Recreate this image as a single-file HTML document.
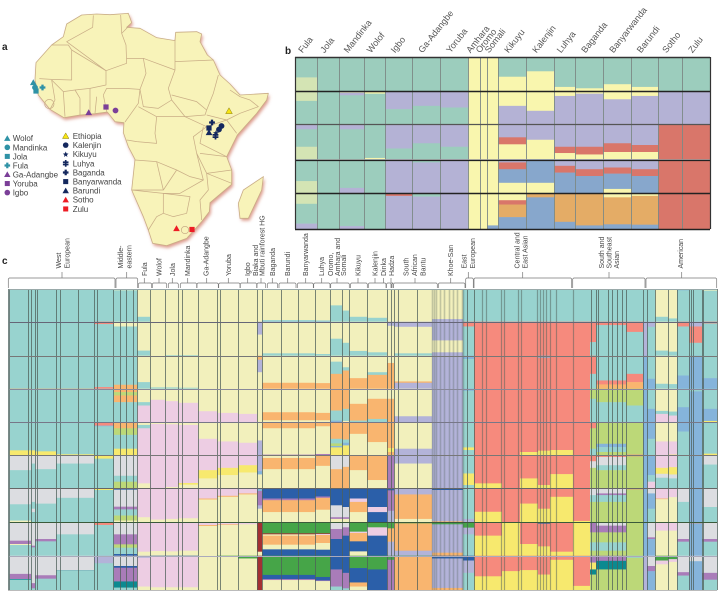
<!DOCTYPE html>
<html lang="en">
<head>
<meta charset="utf-8">
<title>African population structure figure</title>
<style>
html,body{margin:0;padding:0;background:#fff;}
svg{display:block;}
text{font-family:"Liberation Sans",sans-serif;}
</style>
</head>
<body>
<svg id="fig" xmlns="http://www.w3.org/2000/svg" width="720" height="591" viewBox="0 0 720 591">
  <defs>
    <filter id="soft" x="-5%" y="-5%" width="110%" height="110%"><feGaussianBlur stdDeviation="5"/></filter>
  </defs>
  <rect width="720" height="591" fill="#fff"/>

  <text x="2" y="50" font-size="10" font-weight="bold" fill="#222">a</text>
  <text x="285" y="54" font-size="10" font-weight="bold" fill="#222">b</text>
  <text x="2" y="264" font-size="10" font-weight="bold" fill="#222">c</text>

  <g transform="scale(0.33333)">
    <g fill="#dc9a8a" filter="url(#soft)" transform="translate(4,7)">
      <path d="M245 45L290 42L330 44L385 40L395 68L380 82L420 85L470 113L525 122L527 97L590 95L605 102L600 125L622 165L640 180L660 225L690 252L720 285L805 280L800 300L770 340L712 405L680 470L695 510L695 553L630 608L628 635L605 665L560 715L500 737L458 730L445 690L430 650L395 570L405 478L385 440L370 398L372 368L345 365L322 336L285 341L240 345L192 353L150 328L115 285L105 240L108 188L155 135L190 110L200 72Z"/>
      <path d="M790 530L785 570L745 655L720 655L715 610L730 570Z"/>
    </g>
    <path fill="#f8f3b9" stroke="#c9ad86" stroke-width="2.4" stroke-linejoin="round" d="M245 45L290 42L330 44L385 40L395 68L380 82L420 85L470 113L525 122L527 97L590 95L605 102L600 125L622 165L640 180L660 225L690 252L720 285L805 280L800 300L770 340L712 405L680 470L695 510L695 553L630 608L628 635L605 665L560 715L500 737L458 730L445 690L430 650L395 570L405 478L385 440L370 398L372 368L345 365L322 336L285 341L240 345L192 353L150 328L115 285L105 240L108 188L155 135L190 110L200 72Z"/>
    <path fill="#f8f3b9" stroke="#c9ad86" stroke-width="2.4" d="M790 530L785 570L745 655L720 655L715 610L730 570Z"/>
    <g fill="none" stroke="#c9ad86" stroke-width="2.2" stroke-linejoin="round">
      <path d="M280 46L278 82L200 125L318 212L380 190L378 135L365 100L362 45"/>
      <path d="M365 100L385 80M380 175L430 175L525 210L525 118M525 185L640 180"/>
      <path d="M155 135L205 135L215 150L215 240L155 238L118 236M215 150L318 212L318 255L270 265L225 270L190 275L155 240"/>
      <path d="M430 175L438 220L420 268L370 265L320 265M525 210L505 265L515 300L475 325L430 320L420 268"/>
      <path d="M655 225L640 280L620 330L590 305L515 285M515 300L555 350L615 345L620 330"/>
      <path d="M690 270L720 290L750 300L775 320L720 340L680 360L620 345M420 268L415 310L375 366M310 285L320 335M320 265L310 285"/>
      <path d="M415 320L470 350L555 350L620 380L580 410L590 460L610 540L570 530L530 510L470 485L405 480M470 350L465 400L470 430L410 425L380 420"/>
      <path d="M395 570L490 570L470 485M490 570L530 510M395 570L490 580L490 640L470 650L445 690M490 580L570 590L560 640L520 650L490 640"/>
      <path d="M695 550L620 520L625 570L600 600L605 660M490 580L540 580L575 560L610 540M600 460L680 470M695 510L620 520L590 460M620 380L680 360L710 400M680 470L600 430L610 380"/>
      <path d="M155 240L165 300M190 275L195 350M240 295L240 345M270 265L270 340M290 290L285 340M225 270L240 295M165 300L150 328"/>
      <circle cx="555" cy="690" r="11"/>
      <circle cx="148" cy="312" r="14"/>
    </g>
  </g>
  <g id="map-markers"></g>
  <g id="legend"></g>

  <g id="panel-b"></g>
  <g id="panel-c-labels"></g>
  <g id="panel-c"></g>
</svg>

<script>
// ---------- legend data ----------
const legendNames = ['Wolof','Mandinka','Jola','Fula','Ga-Adangbe','Yoruba','Igbo','Ethiopia','Kalenjin','Kikuyu','Luhya','Baganda','Banyarwanda','Barundi','Sotho','Zulu'];
const legendShapes = ['tri','circ','sq','plus','tri','sq','circ','tri','circ','star','dbl','plus','sq','tri','tri','sq'];
const legendColors = ['#2f92a6','#2f92a6','#2f92a6','#2f92a6','#7b3f98','#7b3f98','#7b3f98','#f7e513','#14285e','#14285e','#14285e','#14285e','#14285e','#14285e','#ed1c24','#ed1c24'];

// ---------- panel b data ----------
const bPopulations = ['Fula','Jola','Mandinka','Wolof','Igbo','Ga-Adangbe','Yoruba','Amhara','Oromo','Somali','Kikuyu','Kalenjin','Luhya','Baganda','Banyarwanda','Barundi','Sotho','Zulu'];
const bSizes = [22,22,25,21,27,28,28,12,7,11,28,28,21,28,28,27,24,28];
const bRow1 = ['t60 u40','t100','t100','t100','t100','t100','t100','y100','y100','y100','t58 y42','t42 y58','t88 y12','t92 y8','t80 y20','t88 y12','t100','t100'];
const bRow2 = ['u30 t70','t100','y5 l8 t87','y8 t92','l55 t45','l45 t55','l50 t50','y100','y100','y100','y45 l55','y60 l40','y15 l85','y8 l92','y25 l75','y15 l85','l100','l100'];
const bRow3 = ['l15 t50 u35','t100','l15 t85','t97 y3','l70 t30','l55 t45','l65 t35','y100','y100','y100','l38 r20 y42','l45 y55','l65 r18 y17','l65 r22 y13','l55 r25 y20','l60 r20 y20','r100','r100'];
const bRow4 = ['t65 u35','t100','t85 l15','t100','l100','t10 l90','l100','y100','y100','y100','l10 r20 s40 y30','s70 y30','l20 r20 s60','l30 r20 s50','l25 r18 s45 y12','l30 r20 s50','r100','r100'];
const bRow5 = ['u30 t55 l15','t100','t92 l8','t100','r8 l92','t10 l90','l100','y100','y100','y90 s10','y20 r12 o35 s33','o12 s88','o80 s20','o90 s10','y12 o75 s13','y8 o80 s12','r100','r100'];

// ---------- panel c data ----------
const cSegmentNames = ['west-european-1','west-european-2','west-european-3','west-european-4','west-european-5','middle-eastern','fula','wolof','jola','mandinka','ga-adangbe','yoruba','igbo','biaka-mbuti','baganda-barundi-banyarwanda','luhya','oromo-amhara','somali','kikuyu','kalenjin','dinka-hadza','south-african-bantu','khoe-san','east-european','east-asian-1','east-asian-2','east-asian-3','east-asian-4','east-asian-5','east-asian-6','south-asian-1','south-asian-2','southeast-asian','american-1','american-2','american-3','american-4','american-5','american-6','american-7'];
const cSegmentSizes = [23,4,21,38,20,23,13,15,13,20,19,21,19,5,53,15,12,7,18,20,7,38,31,11,28,18,18,12,23,17,6,30,17,4,8,13,9,12,13,15];
const cWestEuro1 = ['t100','t100','t100','o2 t98','o2 t83 Y15','g45 t55','g47 t48 y5','g55 p10 y3 t32','g53 p15 e2 t30'];
const cWestEuro2 = ['t100','t100','t100','t100','t85 Y15','g25 t75','g40 t20 g10 t30','g70 p5 t25','g80 p15 t5'];
const cWestEuro3 = ['t100','t100','t100','o1 t99','t88 Y12','g42 t58','g45 t55','g50 p7 t43','g57 p10 t33'];
const cWestEuro4 = ['t100','t100','t100','o1 t99','t97 Y3','g25 t75','g28 t72','g36 t64','g43 e1 t56'];
const cWestEuro5 = ['t100','r7 t93','t95 r5','t100','r10 s2 t88','Y10 t90','Y5 t95','r8 t92','l22 t78'];
const cMiddleEast = ['y4 t96','y14 t86','t88 o12','o10 L10 o20 t60','o18 L20 t42 Y20','g62 t18 L20','b4 g50 p8 t18 L15 y5','g36 p30 L10 t19 b5','g30 b5 p40 e18 t7'];
const cFula = ['y85 t15','y85 t15','y80 t20','y40 t10 k50','y8 t10 k82','k85 y15','b2 k83 y15','k88 y12','l6 k84 y10'];
const cWolof = ['y100','y100','y96 t4','y33 k67','y5 k95','k100','b2 k90 y8','r1 k85 y14','b2 k90 y8'];
const cJola = ['y100','y98 t2','y96 t4','y37 k63','y6 k94','k96 y4','b2 k88 y10','r1 k86 y13','b3 k89 y8'];
const cMandinka = ['y100','y98 t2','y97 t3','y42 k58','y8 k92','k84 Y5 y11','b1 k87 y12','k85 y15','b2 k90 y8'];
const cGaAdangbe = ['y100','y100','y100','y67 k33','y50 k50','k45 Y25 y30','k30 o3 y67','k8 o3 y89','y100'];
const cYoruba = ['y100','y100','y100','y72 k28','y58 k42','k38 Y22 y40','k22 o3 y75','k6 o2 y92','G3 y97'];
const cIgbo = ['y100','y100','y100','y75 k25','y62 k38','k30 Y22 y48','k15 o3 y82','k6 y94','G8 y92'];
const cBiakaMbuti = ['y100','l38 y62','o12 l38 y50','y100','y55 l45','l48 s10 y42','s8 p42 l10 y40','d88 y12','d100'];
const cBantuEast = ['y95 t5','l2 y91 t7','y82 o18','y70 o24 y6','o18 y80 p2','y8 o34 y58','b30 p5 o35 y30','G33 d3 y4 o27 y14 b19','G56 b12 p3 y29'];
const cLuhya = ['y96 t4','l2 y93 t5','y83 o17','y72 o22 y6','o12 y84 p4','o32 y68','b24 p4 o35 y37','G33 d2 k3 o24 y20 b18','G62 b10 p2 y26'];
const cOromo = ['y50 t50','y50 t50','y18 t37 o45','o65 t30 s5','o50 t14 L8 s4 Y24','g42 o58','b50 g35 p5 y10','g20 p30 b50','b40 p50 t10'];
const cSomali = ['y66 t34','y62 t38','y35 t10 o55','o60 t36 y4','o52 t10 s8 Y30','g35 o65','b55 g30 p5 y10','g15 p25 b60','b50 p45 t5'];
const cKikuyu = ['y85 t15','y86 t14','y68 o32','y45 o50 t5','o35 y65','o45 y55','b30 k10 o30 y30','G28 k4 o25 b30 y13','G36 b42 o12 y10'];
const cKalenjin = ['y88 t12','y90 t10','y50 t8 o42','y30 o60 t10','o60 y40','o75 y25','b55 k15 b30','G15 k25 b60','G40 b60'];
const cDinkaHadza = ['y100','l12 y88','y22 o78','y30 o70','o78 Y12 o10','p100','b6 p60 l34','G18 o40 l42','G12 p88'];
const cSouthBantu = ['y100','l15 y78 t7','y78 o4 l18','y82 l18','y80 l20','l25 y75','l18 o72 y10','G3 o82 l15','G3 o97'];
const cKhoeSan = ['y92 l8','l55 y35 l10','l100','l100','l100','l100','b5 l92 o3','G6 l85 o9','b8 l86 o6'];
const cEastEuro = ['t100','r14 t86','s10 t90','s6 t94','t76 Y8 t16','t55 Y35 t10','t90 l10','G16 l20 t64','b14 l36 t50'];
const cAsia1 = ['t100','r100','r100','r100','r99 Y1','r85 Y15','r69 Y31','r40 Y60','r60 Y40'];
const cAsia2 = ['t100','r100','r100','r100','r100','r100','r100','b2 Y98','r45 Y55'];
const cAsia3 = ['t100','r100','r100','r100','r90 Y10','r70 Y30','r45 Y55','r65 Y35','r42 Y58'];
const cAsia4 = ['t100','r100','s6 r94','r100','r86 Y14','r90 Y10','r60 Y40','b4 r68 Y28','r55 Y45'];
const cAsia5 = ['t100','r100','r100','r100','r84 Y16','r57 Y43','r25 Y75','r88 Y12','r12 Y88'];
const cAsia6 = ['t100','r100','r100','r100','r100','r100','r96 Y4','Y100','r88 Y12'];
const cSouth1 = ['t100','r60 t40','r55 t45','L30 t70','r18 L62 t20','r18 g20 L62','g20 t20 L60','p30 L30 t25 L15','p20 Y20 e15 L45'];
const cSouth2 = ['t100','r10 t90','t75 r12 o13','L40 t60','L65 s10 t15 L10','r5 g25 t15 L55','g15 p5 t20 L60','g10 p20 L30 t25 L15','p15 e25 L60'];
const cSouth3 = ['t100','r30 t70','t55 r25 o20','L50 t50','L98 r2','r3 L97','r3 L97','L100','t6 L94'];
const cAmerican1 = ['t100','l100','s100','s100','s100','s100','s100','s100','l100'];
const cAmerican2 = ['t100','l15 t85','t70 s30','t60 s40','s50 t50','s60 t20 k20','g15 s45 t40','g45 p5 s50','g30 p15 s55'];
const cAmerican3 = ['y85 t15','y85 t15','y85 t15','y66 t9 k25','y58 k42','k38 Y18 g12 t32','k30 o2 y68','k25 y75','G14 k11 y75'];
const cAmerican4 = ['y90 t10','y88 t12','y86 t14','y68 t12 k20','y58 k40 Y2','k36 Y22 g12 t30','k26 y74','k25 y75','G10 k8 y82'];
const cAmerican5 = ['s4 t96','r14 t86','t60 s40','t55 s45','s28 t72','t100','g40 t60','g50 p8 t42','g48 p10 t42'];
const cAmerican6 = ['t100','l14 r48 t38','s100','t8 s92','s100','s100','s100','r3 s97','g16 s84'];
const cAmerican7 = ['y5 t95','r5 t95','t68 s32','t60 s36 Y4','t95 Y5','g28 t72','g55 t45','g50 p8 t42','g50 p20 t30'];
const cStacksBySegment = [cWestEuro1,cWestEuro2,cWestEuro3,cWestEuro4,cWestEuro5,cMiddleEast,cFula,cWolof,cJola,cMandinka,cGaAdangbe,cYoruba,cIgbo,cBiakaMbuti,cBantuEast,cLuhya,cOromo,cSomali,cKikuyu,cKalenjin,cDinkaHadza,cSouthBantu,cKhoeSan,cEastEuro,cAsia1,cAsia2,cAsia3,cAsia4,cAsia5,cAsia6,cSouth1,cSouth2,cSouth3,cAmerican1,cAmerican2,cAmerican3,cAmerican4,cAmerican5,cAmerican6,cAmerican7];
const cSeparatorSamples = [1,20,23,27,29,48,52,70,86,89,105,112,118,125,129,142,157,170,174,190,209,212,230,249,254,273,290,307,322,334,341,359,379,383,386,390,409,424,426,428,432,436,441,445,449,454,455,459,466,474,478,493,496,510,513,529,532,535,538,542,548,565,583,588,590,600,604,609,614,618,635,639,647,660,669,681,683,685,694,695,709];

const SVGNS = 'http://www.w3.org/2000/svg';
const bPalette = {t:'#9ccdbd',y:'#f9f6ae',u:'#d4e4b4',l:'#b4b2d5',r:'#d9766a',s:'#87a7cc',o:'#e4ac66'};
const cPalette = {y:'#f2f0bc',t:'#98d3cf',k:'#edcde3',r:'#f68a7d',o:'#f9b56f',g:'#dcdde1',Y:'#f7e96e',l:'#b3b3d9',b:'#2b5fa9',G:'#46a548',L:'#bcd878',p:'#a97cb9',s:'#85b4db',d:'#a33033',e:'#0c8a90'};

function make(tag, parent, attrs) {
  const el = document.createElementNS(SVGNS, tag);
  for (const k in attrs) el.setAttribute(k, attrs[k]);
  parent.appendChild(el);
  return el;
}
function parseStack(str) {
  return str.split(' ').map(p => ({key: p[0], value: parseFloat(p.slice(1))}));
}
function sum(a) { return a.reduce((s, v) => s + v, 0); }

// ---------- markers ----------
function drawMarker(parent, shape, x, y, r, color) {
  let el;
  const stroke = color === '#f7e513' ? '#8a7d10' : 'none';
  if (shape === 'circ') {
    el = make('circle', parent, {cx: x, cy: y, r: r, fill: color});
  } else if (shape === 'sq') {
    el = make('rect', parent, {x: x - r * 0.9, y: y - r * 0.9, width: r * 1.8, height: r * 1.8, fill: color});
  } else if (shape === 'tri') {
    el = make('path', parent, {d: `M${x} ${y - r * 1.1}L${x + r * 1.15} ${y + r * 0.9}L${x - r * 1.15} ${y + r * 0.9}Z`, fill: color, stroke: stroke, 'stroke-width': 0.5});
  } else if (shape === 'plus') {
    el = make('path', parent, {d: `M${x} ${y - r}V${y + r}M${x - r} ${y}H${x + r}`, stroke: color, 'stroke-width': r * 0.8, fill: 'none'});
  } else if (shape === 'dbl') {
    el = make('path', parent, {d: `M${x} ${y - r * 1.2}V${y + r * 1.2}M${x - r} ${y - r * 0.4}H${x + r}M${x - r} ${y + r * 0.4}H${x + r}`, stroke: color, 'stroke-width': r * 0.6, fill: 'none'});
  } else {
    el = make('path', parent, {d: `M${x} ${y - r}L${x + r * 0.3} ${y - r * 0.3}L${x + r} ${y - r * 0.2}L${x + r * 0.45} ${y + r * 0.25}L${x + r * 0.6} ${y + r}L${x} ${y + r * 0.55}L${x - r * 0.6} ${y + r}L${x - r * 0.45} ${y + r * 0.25}L${x - r} ${y - r * 0.2}L${x - r * 0.3} ${y - r * 0.3}Z`, fill: color});
  }
  return el;
}

// map markers: [population index, x, y] in map pixels
const mapSites = [[0,33.3,82.5],[1,35,87.5],[2,36,91],[3,42.5,87.5],[4,88.7,112.5],[5,106,107],[6,115.5,110.5],[7,229,111],[8,221.5,126],[8,219,129.5],[9,216,133],[10,215.5,136],[11,212,122.5],[12,209,128],[13,209,132.5],[14,176.5,228.5],[15,192,229.5]];
const markersG = document.getElementById('map-markers');
mapSites.forEach(site => {
  const m = drawMarker(markersG, legendShapes[site[0]], site[1], site[2], 2.9, legendColors[site[0]]);
  
  
});

// legend
const legendG = document.getElementById('legend');
legendNames.forEach((name, i) => {
  const col2 = i >= 7;
  const iconX = col2 ? 65.7 : 7.3;
  const textX = col2 ? 72.7 : 12.7;
  const y = col2 ? 136 + (i - 7) * 9.12 : 138.3 + i * 9.05;
  const m = drawMarker(legendG, legendShapes[i], iconX, y, 2.8, legendColors[i]);
  
  
  const t = make('text', legendG, {x: textX, y: y + 2.9, 'font-size': 8, fill: '#444'});
  t.textContent = name;
  
  
});

// ---------- panel b ----------
const bG = document.getElementById('panel-b');
const bLeft = 295, bWidth = 415;
const bRowTops = [57, 91, 124, 159, 193, 229];
const bTotal = sum(bSizes);
function bX(sample) { return bLeft + sample / bTotal * bWidth; }
const bRows = [bRow1, bRow2, bRow3, bRow4, bRow5];
function bY(rowIndex, fraction) { return bRowTops[rowIndex] + fraction * (bRowTops[rowIndex + 1] - bRowTops[rowIndex]); }

bRows.forEach((row, r) => {
  let cum = 0;
  row.forEach((stackStr, c) => {
    const x0 = bX(cum), x1 = bX(cum + bSizes[c]);
    const parts = parseStack(stackStr);
    const total = sum(parts.map(p => p.value));
    let acc = 0;
    parts.forEach(p => {
      const y0 = bY(r, acc / total), y1 = bY(r, (acc + p.value) / total);
      const rect = make('rect', bG, {x: x0, y: y0, width: x1 - x0 + 0.3, height: y1 - y0 + 0.3, fill: bPalette[p.key]});
      
      
      acc += p.value;
    });
    cum += bSizes[c];
  });
});
let bCum = 0;
bPopulations.forEach((name, i) => {
  const x0 = bX(bCum), x1 = bX(bCum + bSizes[i]);
  if (i > 0) {
    const sx = Math.round(x0) + 0.5;
    const sep = make('line', bG, {x1: sx, x2: sx, y1: 57, y2: 229, stroke: '#7d8a86', 'stroke-width': 0.9});
    
    
  }
  const cx = (x0 + x1) / 2 - 3.5;
  const t = make('text', bG, {transform: `translate(${cx},53.5) rotate(-52)`, 'font-size': 9, fill: '#555'});
  t.textContent = name;
  
  
  bCum += bSizes[i];
});
[[57,'#333',1.4],[91,'#222',1.4],[124,'#555',1.2],[159,'#aaa',0.8],[160,'#222',1.2],[193,'#222',1.4],[229,'#222',1.4]].forEach(l => {
  const hl = make('line', bG, {x1: 295, x2: 710, y1: l[0] + 0.5, y2: l[0] + 0.5, stroke: l[1], 'stroke-width': l[2]});
  
  
});
[295, 710].forEach(x => {
  const vl = make('line', bG, {x1: x + 0.5, x2: x + 0.5, y1: 57, y2: 229, stroke: '#333', 'stroke-width': 1.2});
  
  
});

// ---------- panel c ----------
const cG = document.getElementById('panel-c');
const cLeft = 8, cWidth = 709;
const cRowTops = [289, 321.7, 355.7, 388.7, 422.3, 455.3, 488.3, 522.3, 555.7, 590];
const cTotal = sum(cSegmentSizes);
function cX(sample) { return cLeft + sample / cTotal * cWidth; }
function cY(rowIndex, fraction) { return cRowTops[rowIndex] + fraction * (cRowTops[rowIndex + 1] - cRowTops[rowIndex]); }

let cCum = 0;
cStacksBySegment.forEach((rows, s) => {
  const x0 = cX(cCum), x1 = cX(cCum + cSegmentSizes[s]);
  rows.forEach((stackStr, r) => {
    const parts = parseStack(stackStr);
    const total = sum(parts.map(p => p.value));
    let acc = 0;
    parts.forEach(p => {
      const y0 = cY(r, acc / total), y1 = cY(r, (acc + p.value) / total);
      const rect = make('rect', cG, {x: x0, y: y0, width: x1 - x0 + 0.3, height: y1 - y0 + 0.3, fill: cPalette[p.key]});
      
      
      acc += p.value;
    });
  });
  cCum += cSegmentSizes[s];
});
cSeparatorSamples.forEach(sample => {
  const inKhoe = sample >= 424 && sample <= 455;
  const inAsia = sample > 466 && sample < 583;
  const x = Math.round(cX(sample)) + 0.5;
  const sep = make('line', cG, {x1: x, x2: x, y1: 289, y2: 590, stroke: '#4f5f5a', 'stroke-width': inKhoe ? 1.6 : (inAsia ? 1.2 : 1), 'stroke-opacity': inKhoe ? 0.3 : (inAsia ? 0.5 : 0.75)});
  
  
});
cRowTops.forEach((y, i) => {
  const colors = ['#9aa','#667','#777','#889','#778','#777','#666','#3a5a3a','#aab','#bbb'];
  const ry = Math.round(y) + 0.5;
  const hl = make('line', cG, {x1: 8, x2: 717, y1: ry, y2: ry, stroke: colors[i], 'stroke-width': 1});
  
  
});
const edge = make('rect', cG, {x: 8, y: 289, width: 1.5, height: 301, fill: '#7a8a88'});



// ---------- panel c brackets and labels ----------
const cBracketLines = [['West','European'],['Middle-','eastern'],['Fula'],['Wolof'],['Jola'],['Mandinka'],['Ga-Adangbe'],['Yoruba'],['Igbo'],['Biaka and','Mbuti rainforest HG'],['Baganda'],['Barundi'],['Banyarwanda'],['Luhya'],['Oromo,','Amhara and','Somali'],['Kikuyu'],['Kalenjin'],['Dinka'],['Hadza'],['South','African','Bantu'],['Khoe-San'],['East','European'],['Central and','East Asian'],['South and','Southeast','Asian'],['American']];
const bracketGeom = [
  [8.3,115,62,1,[61,69.5]],[116,137.7,126.7,1,[123,131.5]],[138.3,151.7,144.3,0,[146.8]],[152.3,166.7,159,0,[161.5]],[168.3,178.3,172.3,0,[174.8]],[180.3,196.7,187.7,0,[190.2]],[197,218.3,206.7,0,[208.5]],[218.7,240,228.3,0,[230.8]],[240.3,256.7,247.7,0,[250.2]],[257,265.7,261,0,[258,264.5]],[267.3,277.7,272.3,0,[274.8]],[279,296,287.7,0,[290.2]],[297.3,313.3,305.7,0,[308.2]],[313.7,330,321.7,0,[324.2]],[330.7,349.3,337,0,[333,340,346]],[350.5,367.3,358,0,[360.5]],[368.3,386,375,0,[377.5]],[386.5,391,383.5,0,[386]],[391.7,393,391,0,[394]],[393.5,437.3,415,0,[408.5,417,425.5]],[438.3,465,450.7,0,[453.2]],[465.7,473.3,468.3,1,[466.5,475]],[474,571.7,522.7,1,[519.5,527.5]],[572.7,645,609,1,[604,611.5,619]],[646,716.7,681.7,1,[683.2]]
];
const labelsG = document.getElementById('panel-c-labels');
cBracketLines.forEach((lines, i) => {
  const g = bracketGeom[i];
  const tall = g[3] === 1;
  const yt = tall ? 278 : 283;
  const tickTop = tall ? 272 : 278;
  const br = make('path', labelsG, {d: `M${g[0]} 288V${yt + 1}L${g[0] + 1} ${yt}H${g[1] - 1}L${g[1]} ${yt + 1}V288M${g[2]} ${yt}V${tickTop}`, fill: 'none', stroke: '#777', 'stroke-width': 0.7});
  
  
  lines.forEach((line, j) => {
    const t = make('text', labelsG, {transform: `translate(${g[4][j]},${tall ? 268.5 : 276}) rotate(-90)`, 'font-size': 7, fill: '#444'});
    t.textContent = line;
    
    
  });
});
</script>
</body>
</html>
